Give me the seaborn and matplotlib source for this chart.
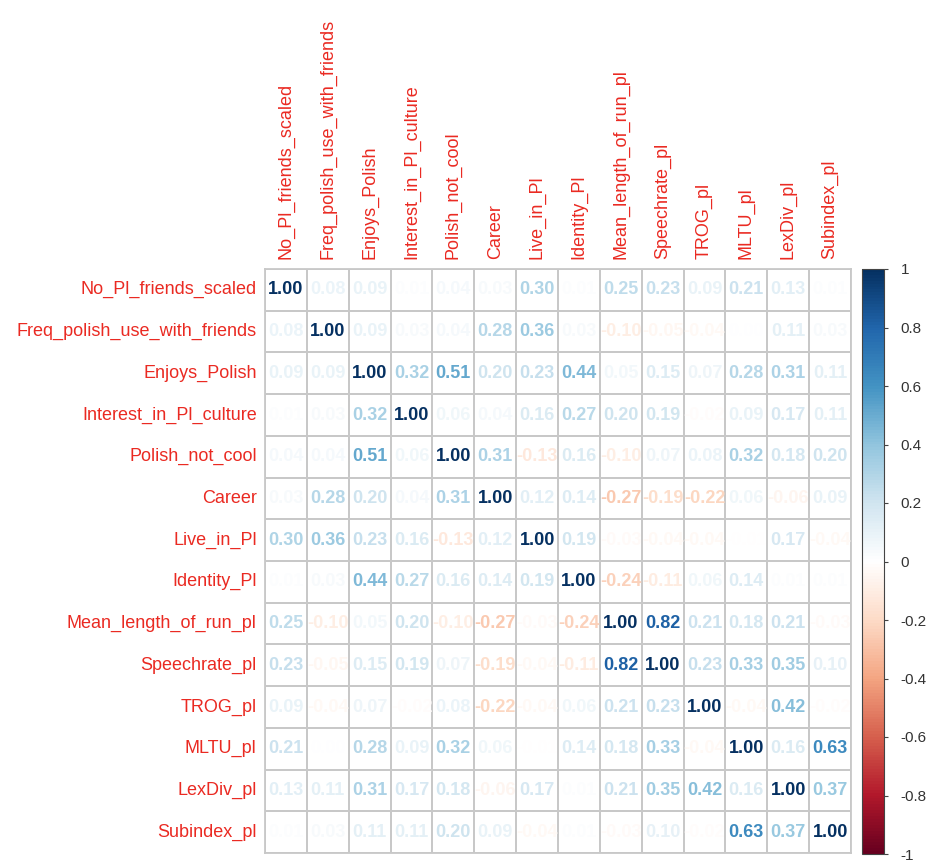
import numpy as np
import pandas as pd
import matplotlib
matplotlib.use("Agg")
import matplotlib.pyplot as plt
import seaborn as sns
from matplotlib.colors import LinearSegmentedColormap, Normalize


# variable names (rows and columns of the matrix)
labels = ["No_Pl_friends_scaled", "Freq_polish_use_with_friends", "Enjoys_Polish",
          "Interest_in_Pl_culture", "Polish_not_cool", "Career", "Live_in_Pl",
          "Identity_Pl", "Mean_length_of_run_pl", "Speechrate_pl", "TROG_pl",
          "MLTU_pl", "LexDiv_pl", "Subindex_pl"]

# correlation values, row by row
r_no_pl_friends = [1.00, 0.08, 0.09, 0.01, 0.04, 0.03, 0.30, 0.01, 0.25, 0.23, 0.09, 0.21, 0.13, 0.01]
r_freq_polish   = [0.08, 1.00, 0.09, 0.03, 0.04, 0.28, 0.36, 0.03, -0.10, -0.05, -0.04, 0.00, 0.11, 0.03]
r_enjoys        = [0.09, 0.09, 1.00, 0.32, 0.51, 0.20, 0.23, 0.44, 0.05, 0.15, 0.07, 0.28, 0.31, 0.11]
r_interest      = [0.01, 0.03, 0.32, 1.00, 0.06, 0.04, 0.16, 0.27, 0.20, 0.19, -0.02, 0.09, 0.17, 0.11]
r_not_cool      = [0.04, 0.04, 0.51, 0.06, 1.00, 0.31, -0.13, 0.16, -0.10, 0.07, 0.08, 0.32, 0.18, 0.20]
r_career        = [0.03, 0.28, 0.20, 0.04, 0.31, 1.00, 0.12, 0.14, -0.27, -0.19, -0.22, 0.06, -0.06, 0.09]
r_live          = [0.30, 0.36, 0.23, 0.16, -0.13, 0.12, 1.00, 0.19, -0.03, -0.04, -0.04, -0.01, 0.17, -0.04]
r_identity      = [0.01, 0.03, 0.44, 0.27, 0.16, 0.14, 0.19, 1.00, -0.24, -0.11, 0.06, 0.14, 0.01, 0.01]
r_mlr           = [0.25, -0.10, 0.05, 0.20, -0.10, -0.27, -0.03, -0.24, 1.00, 0.82, 0.21, 0.18, 0.21, -0.03]
r_speech        = [0.23, -0.05, 0.15, 0.19, 0.07, -0.19, -0.04, -0.11, 0.82, 1.00, 0.23, 0.33, 0.35, 0.10]
r_trog          = [0.09, -0.04, 0.07, -0.02, 0.08, -0.22, -0.04, 0.06, 0.21, 0.23, 1.00, -0.04, 0.42, -0.02]
r_mltu          = [0.21, 0.00, 0.28, 0.09, 0.32, 0.06, -0.01, 0.14, 0.18, 0.33, -0.04, 1.00, 0.16, 0.63]
r_lexdiv        = [0.13, 0.11, 0.31, 0.17, 0.18, -0.06, 0.17, 0.01, 0.21, 0.35, 0.42, 0.16, 1.00, 0.37]
r_subindex      = [0.01, 0.03, 0.11, 0.11, 0.20, 0.09, -0.04, 0.01, -0.03, 0.10, -0.02, 0.63, 0.37, 1.00]

cbar_ticks = [-1, -0.8, -0.6, -0.4, -0.2, 0, 0.2, 0.4, 0.6, 0.8, 1]
cbar_ticklabels = ["-1", "-0.8", "-0.6", "-0.4", "-0.2", "0", "0.2", "0.4", "0.6", "0.8", "1"]

corr = pd.DataFrame([r_no_pl_friends, r_freq_polish, r_enjoys, r_interest, r_not_cool,
                     r_career, r_live, r_identity, r_mlr, r_speech, r_trog, r_mltu,
                     r_lexdiv, r_subindex], index=labels, columns=labels)

# corrplot style RdBu palette
rdbu = LinearSegmentedColormap.from_list(
    "corr_rdbu",
    ["#67001F", "#B2182B", "#D6604D", "#F4A582", "#FDDBC7", "#FFFFFF",
     "#D1E5F0", "#92C5DE", "#4393C3", "#2166AC", "#053061"], N=200)
norm = Normalize(vmin=-1, vmax=1)
white = LinearSegmentedColormap.from_list("white", ["white", "white"])

sns.set_style("white")
plt.rcParams["font.family"] = ["Liberation Sans", "DejaVu Sans"]

W, H = 935, 867
fig = plt.figure(figsize=(W / 100, H / 100), dpi=100)
ax = fig.add_axes([265 / W, (H - 853) / H, 586 / W, 584 / H])
cax = fig.add_axes([862 / W, (H - 854) / H, 22 / W, 585 / H])

sns.heatmap(corr, ax=ax, cmap=white, cbar=False, annot=True, fmt=".2f",
            linewidths=1.3, linecolor="#c8c8c8", square=False,
            annot_kws={"fontsize": 13, "fontweight": "bold"})

# colour each number by its correlation value
for t, v in zip(ax.texts, corr.values.flatten()):
    t.set_color(rdbu(norm(v)))

for s in ax.spines.values():
    s.set_visible(True)
    s.set_color("#c8c8c8")
    s.set_linewidth(1.3)

label_red = "#ea2a22"
ax.xaxis.tick_top()
ax.set_xticklabels(labels, rotation=90, color=label_red, fontsize=13)
ax.set_yticklabels(labels, rotation=0, color=label_red, fontsize=13)
ax.tick_params(axis="x", length=0, pad=7)
ax.tick_params(axis="y", length=0, pad=6)
ax.set_xlabel("")
ax.set_ylabel("")

# colour legend
cb = matplotlib.colorbar.ColorbarBase(cax, cmap=rdbu, norm=norm, orientation="vertical")
cb.set_ticks(cbar_ticks)
cb.set_ticklabels(cbar_ticklabels)
cb.outline.set_edgecolor("#444444")
cb.outline.set_linewidth(0.8)
cax.tick_params(axis="y", length=3, width=0.8, color="#444444", pad=9,
                labelsize=11, labelcolor="#333333")

fig.savefig("out.png", dpi=100, facecolor="white")
